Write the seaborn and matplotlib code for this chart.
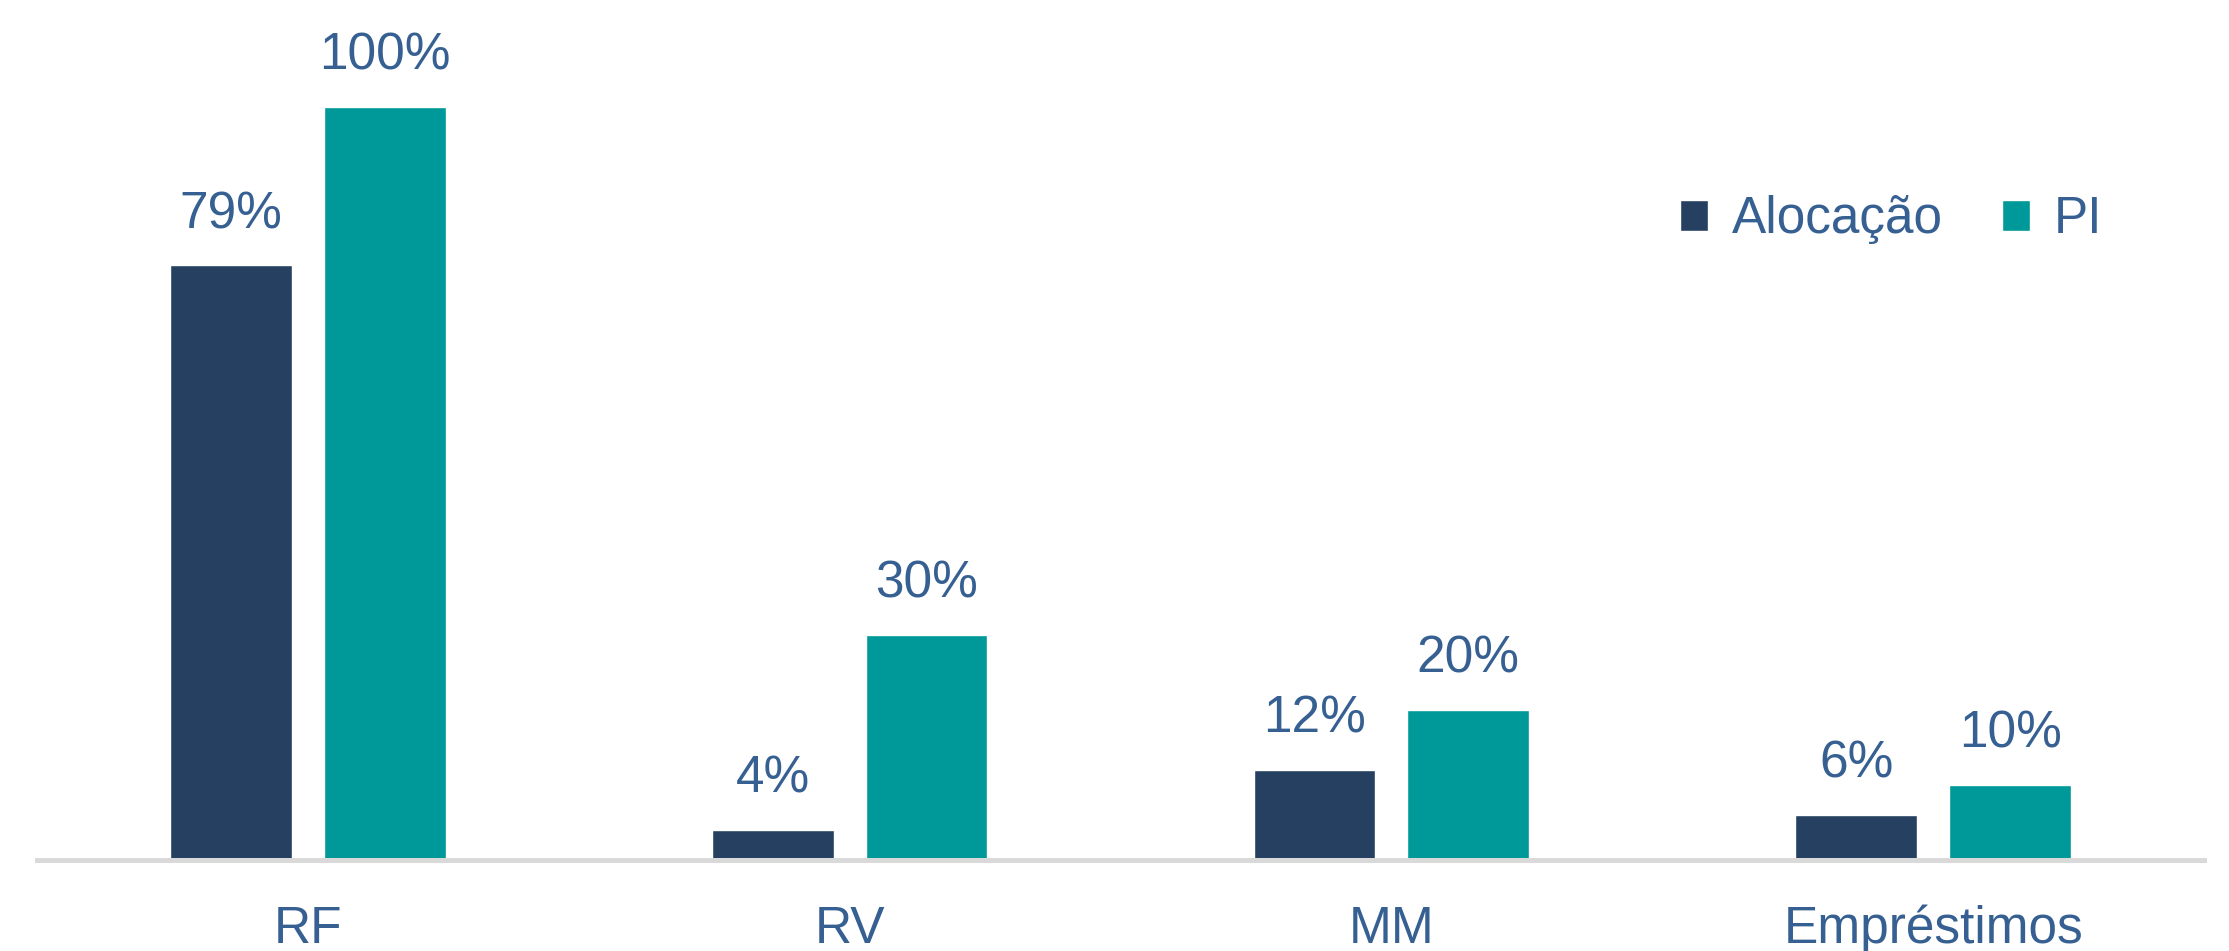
import pandas as pd
import matplotlib
matplotlib.use('Agg')
import matplotlib.pyplot as plt
import seaborn as sns

# chart data
categorias = ['RF', 'RV', 'MM', 'Empréstimos']
alocacao = [79, 4, 12, 6]
pi = [100, 30, 20, 10]
series = ['Alocação', 'PI']

df = pd.DataFrame({
    'Categoria': categorias * 2,
    'Valor': alocacao + pi,
    'Serie': [series[0]] * len(categorias) + [series[1]] * len(categorias),
})

cor_texto = '#376092'
cores = {'Alocação': '#264062', 'PI': '#009999'}
fs = 37

sns.set_style('white')
plt.rcParams['font.family'] = ['Liberation Sans', 'DejaVu Sans']

fig = plt.figure(figsize=(22.29, 9.51), dpi=100)
ax = fig.add_axes([0.0166, 0.0952, 0.9722, 0.8712])

sns.barplot(data=df, x='Categoria', y='Valor', hue='Serie', palette=cores,
            width=0.568, gap=0.208, ax=ax, saturation=1)

# percent labels above bars
for cont, vals in zip(ax.containers, [alocacao, pi]):
    ax.bar_label(cont, labels=[f'{v}%' for v in vals], padding=19,
                 fontsize=fs, color=cor_texto)

ax.set_xlim(-0.5, 3.5)
ax.set_ylim(0, 110)
ax.set_xlabel('')
ax.set_ylabel('')
ax.set_yticks([])
ax.tick_params(axis='x', length=0, pad=32, labelsize=fs, labelcolor=cor_texto)
for s in ['top', 'left', 'right']:
    ax.spines[s].set_visible(False)
ax.spines['bottom'].set_color('#d9d9d9')
ax.spines['bottom'].set_linewidth(3.6)

handles, labels = ax.get_legend_handles_labels()
ax.legend(handles, labels, loc='center left', bbox_to_anchor=(0.742, 0.7687),
          bbox_transform=fig.transFigure, frameon=False, ncol=2, fontsize=fs,
          handlelength=0.56, handleheight=0.56, handletextpad=0.46,
          columnspacing=1.14, borderpad=0, labelcolor=cor_texto)

plt.savefig('out.png', dpi=100)
